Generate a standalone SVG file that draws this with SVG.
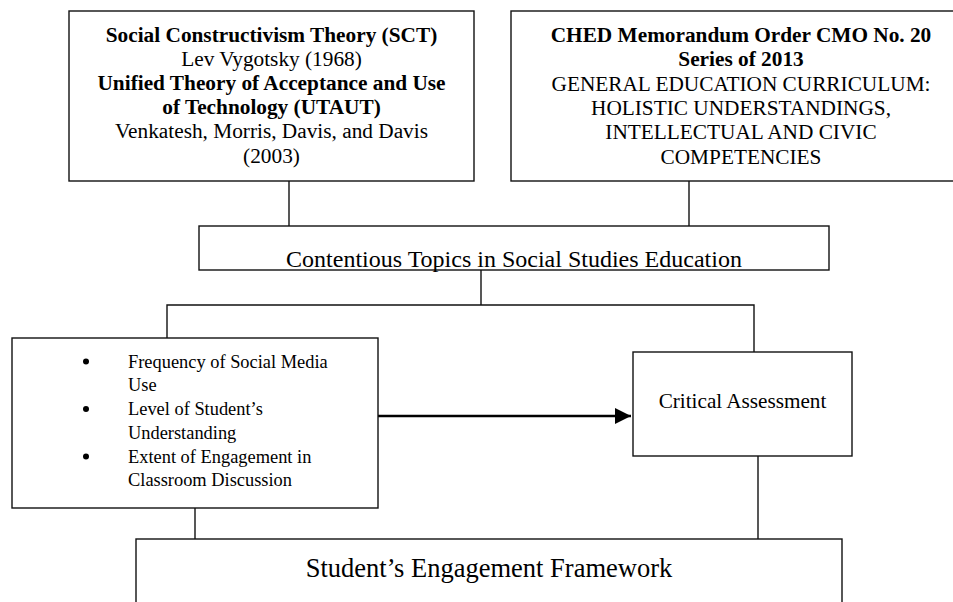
<svg xmlns="http://www.w3.org/2000/svg" width="953" height="602" viewBox="0 0 953 602">
  <style>
    .box { fill: #fff; stroke: #111; stroke-width: 1.4; }
    .wire { fill: none; stroke: #111; stroke-width: 1.4; }
    .flow { fill: none; stroke: #000; stroke-width: 2.6; }
    text { font-family: "Liberation Serif", "Times New Roman", serif; fill: #000; }
    .hd { font-size: 21.3px; text-anchor: middle; }
    .b { font-weight: bold; }
    .li { font-size: 18.4px; }
  </style>
  <defs>
    <marker id="head" markerUnits="userSpaceOnUse" markerWidth="17" markerHeight="16" refX="16" refY="8" orient="auto">
      <path d="M0,0 L16,8 L0,16 Z" fill="#000"/>
    </marker>
  </defs>
  <rect width="953" height="602" fill="#fff"/>

  <!-- connectors -->
  <g id="connectors">
    <line class="wire" x1="289" y1="181" x2="289" y2="226"/>
    <line class="wire" x1="689" y1="181" x2="689" y2="226"/>
    <line class="wire" x1="481" y1="270" x2="481" y2="305"/>
    <polyline class="wire" points="167,338 167,305 754,305 754,352"/>
    <line class="wire" x1="195" y1="508" x2="195" y2="539"/>
    <line class="wire" x1="758" y1="456" x2="758" y2="539"/>
    <line class="flow" x1="378" y1="416" x2="631" y2="416" marker-end="url(#head)"/>
  </g>

  <!-- theory box -->
  <g id="theories">
    <rect class="box" x="69" y="11" width="405" height="170"/>
    <text class="hd b" x="271.5" y="42">Social Constructivism Theory (SCT)</text>
    <text class="hd" x="271.5" y="66">Lev Vygotsky (1968)</text>
    <text class="hd b" x="271.5" y="90">Unified Theory of Acceptance and Use</text>
    <text class="hd b" x="271.5" y="114">of Technology (UTAUT)</text>
    <text class="hd" x="271.5" y="138">Venkatesh, Morris, Davis, and Davis</text>
    <text class="hd" x="271.5" y="163">(2003)</text>
  </g>

  <!-- policy box -->
  <g id="ched">
    <rect class="box" x="511" y="11" width="460" height="170"/>
    <text class="hd b" x="741" y="42">CHED Memorandum Order CMO No. 20</text>
    <text class="hd b" x="741" y="66">Series of 2013</text>
    <text class="hd" x="741" y="91">GENERAL EDUCATION CURRICULUM:</text>
    <text class="hd" x="741" y="115">HOLISTIC UNDERSTANDINGS,</text>
    <text class="hd" x="741" y="139">INTELLECTUAL AND CIVIC</text>
    <text class="hd" x="741" y="164">COMPETENCIES</text>
  </g>

  <!-- central topic -->
  <g id="topics">
    <rect class="box" x="199" y="226" width="630" height="44"/>
    <text x="514" y="267" font-size="24" text-anchor="middle">Contentious Topics in Social Studies Education</text>
  </g>

  <!-- variables -->
  <g id="variables">
    <rect class="box" x="12" y="338" width="366" height="170"/>
    <circle cx="86" cy="361.5" r="3"/>
    <circle cx="86" cy="409" r="3"/>
    <circle cx="86" cy="456.5" r="3"/>
    <text class="li" x="128" y="368">Frequency of Social Media</text>
    <text class="li" x="128" y="391">Use</text>
    <text class="li" x="128" y="415">Level of Student’s</text>
    <text class="li" x="128" y="438.5">Understanding</text>
    <text class="li" x="128" y="462.5">Extent of Engagement in</text>
    <text class="li" x="128" y="485.5">Classroom Discussion</text>
  </g>

  <!-- outcome -->
  <g id="assessment">
    <rect class="box" x="633" y="352" width="219" height="104"/>
    <text x="742.5" y="408" font-size="21.2" text-anchor="middle">Critical Assessment</text>
  </g>

  <!-- framework -->
  <g id="framework">
    <rect class="box" x="136" y="539" width="706" height="80"/>
    <text x="489" y="577" font-size="26.5" text-anchor="middle">Student’s Engagement Framework</text>
  </g>
</svg>
